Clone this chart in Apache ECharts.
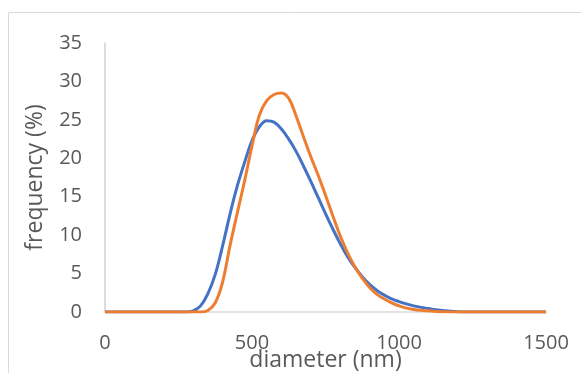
<!DOCTYPE html>
<html>
<head>
<meta charset="utf-8">
<script src="https://cdn.jsdelivr.net/npm/echarts@6/dist/echarts.min.js"></script>
<style>
html, body { margin: 0; padding: 0; background: #fff; }
#chart { width: 581px; height: 373px; }
</style>
</head>
<body>
<div id="chart"></div>
<script>
var dom = document.getElementById("chart");
var myChart = echarts.init(dom);

// diameter (nm) sample points
var diameters = [0, 100, 200, 250, 275, 300, 325, 350, 375, 400, 425, 450, 475, 500, 525, 550, 575, 600, 625, 650, 675, 700, 725, 750, 775, 800, 825, 850, 875, 900, 925, 950, 975, 1000, 1025, 1050, 1075, 1100, 1125, 1150, 1175, 1200, 1225, 1250, 1300, 1400, 1500];
// frequency (%) - blue series
var blueFreq = [0, 0, 0, 0, 0, 0.15, 0.8, 2.4, 4.9, 8.6, 12.7, 16.4, 19.5, 22.3, 24.1, 24.9, 24.7, 23.8, 22.5, 20.9, 19.0, 17.0, 14.9, 12.8, 10.8, 8.9, 7.2, 5.8, 4.6, 3.6, 2.8, 2.2, 1.7, 1.35, 1.05, 0.8, 0.6, 0.45, 0.3, 0.2, 0.1, 0.03, 0, 0, 0, 0, 0];
// frequency (%) - orange series
var orangeFreq = [0, 0, 0, 0, 0, 0, 0, 0.2, 1.2, 3.9, 8.6, 12.9, 17.1, 21.6, 25.6, 27.5, 28.3, 28.5, 27.8, 25.5, 22.8, 20.2, 17.8, 15.2, 12.5, 9.9, 7.7, 5.9, 4.4, 3.2, 2.3, 1.7, 1.2, 0.8, 0.5, 0.33, 0.22, 0.15, 0.08, 0.03, 0, 0, 0, 0, 0, 0, 0];

function pairs(ys) {
    return diameters.map(function (x, i) {
        return [x, ys[i]];
    });
}

var labelFont = 'Open Sans';
var textColor = '#595959';

option = {
    animation: false,
    graphic: [{
        type: 'rect',
        shape: { x: 8.5, y: 12.5, width: 700, height: 500 },
        style: { fill: 'none', stroke: '#d9d9d9', lineWidth: 1 },
        silent: true
    }],
    grid: {
        left: 105,
        right: 35,
        top: 43,
        bottom: 61,
        outerBoundsMode: 'none'
    },
    xAxis: {
        type: 'value',
        min: 0,
        max: 1500,
        interval: 500,
        name: 'diameter (nm)',
        nameLocation: 'middle',
        nameGap: 37,
        nameMoveOverlap: false,
        nameTextStyle: { fontFamily: labelFont, fontSize: 23, color: textColor },
        axisLine: { show: true, lineStyle: { color: '#d9d9d9', width: 1.5 } },
        axisTick: { show: false },
        splitLine: { show: false },
        axisLabel: {
            fontFamily: labelFont, fontSize: 20, color: textColor, margin: 21,
            formatter: function (v) { return String(v); }
        }
    },
    yAxis: {
        type: 'value',
        min: 0,
        max: 35,
        interval: 5,
        name: 'frequency (%)',
        nameLocation: 'middle',
        nameGap: 58,
        nameMoveOverlap: false,
        nameTextStyle: { fontFamily: labelFont, fontSize: 23, color: textColor },
        axisLine: { show: true, lineStyle: { color: '#d0d0d0', width: 1.5 } },
        axisTick: { show: false },
        splitLine: { show: false },
        axisLabel: { fontFamily: labelFont, fontSize: 20, color: textColor, margin: 23 }
    },
    series: [{
        type: 'line',
        data: pairs(blueFreq),
        smooth: 0.4,
        showSymbol: false,
        lineStyle: { color: '#4472C4', width: 3 }
    }, {
        type: 'line',
        data: pairs(orangeFreq),
        smooth: 0.4,
        showSymbol: false,
        lineStyle: { color: '#ED7D31', width: 3 }
    }]
};
if (option && typeof option === "object") {
    myChart.setOption(option, true);
}
</script>
</body>
</html>
